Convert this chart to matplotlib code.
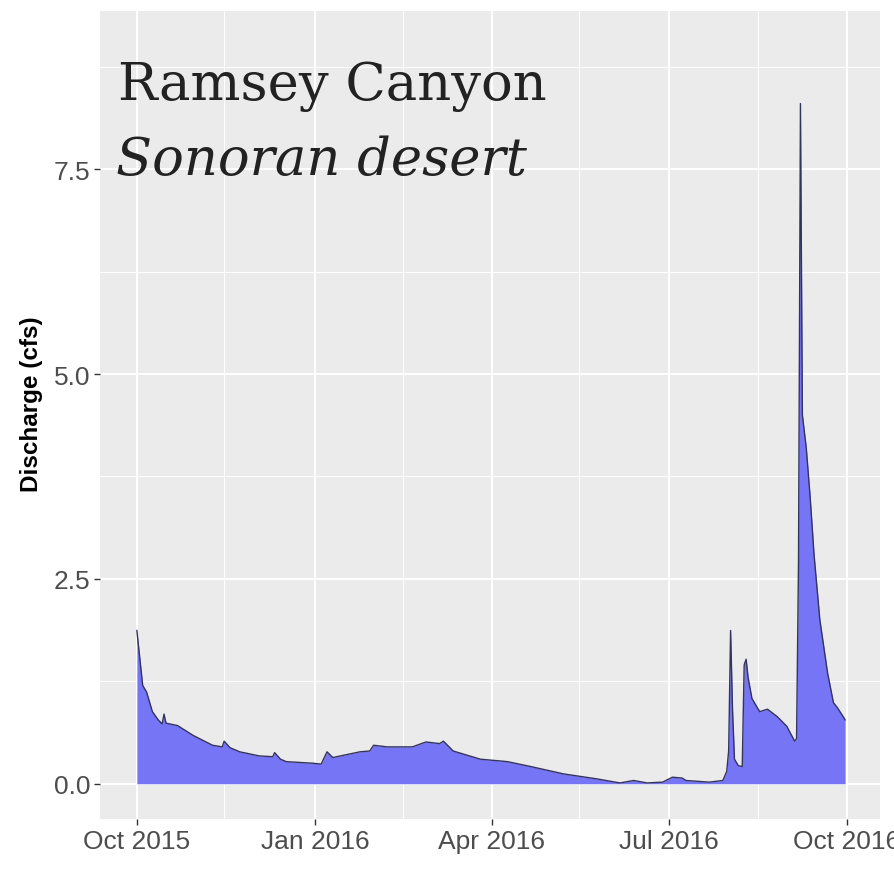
import numpy as np
import pandas as pd
import matplotlib
matplotlib.use('Agg')
import matplotlib.pyplot as plt
import matplotlib.dates as mdates
from matplotlib.ticker import FixedLocator

# daily discharge (cfs)
dates = ['2015-10-01', '2015-10-04', '2015-10-06', '2015-10-09', '2015-10-12',
         '2015-10-14', '2015-10-15', '2015-10-16', '2015-10-22', '2015-10-30',
         '2015-11-09', '2015-11-14', '2015-11-15', '2015-11-18', '2015-11-23',
         '2015-12-03', '2015-12-10', '2015-12-11', '2015-12-14', '2015-12-17',
         '2015-12-31', '2016-01-04', '2016-01-07', '2016-01-10', '2016-01-24',
         '2016-01-29', '2016-01-31', '2016-02-07', '2016-02-20', '2016-02-27',
         '2016-03-05', '2016-03-07', '2016-03-12', '2016-03-26', '2016-04-09',
         '2016-04-21', '2016-05-08', '2016-05-25', '2016-06-06', '2016-06-13',
         '2016-06-20', '2016-06-28', '2016-07-03', '2016-07-08', '2016-07-10',
         '2016-07-22', '2016-07-29', '2016-07-31', '2016-08-01', '2016-08-02',
         '2016-08-03', '2016-08-04', '2016-08-06', '2016-08-08', '2016-08-09',
         '2016-08-10', '2016-08-11', '2016-08-13', '2016-08-17', '2016-08-21',
         '2016-08-26', '2016-08-31', '2016-09-04', '2016-09-05', '2016-09-06',
         '2016-09-07', '2016-09-08', '2016-09-10', '2016-09-12', '2016-09-14',
         '2016-09-17', '2016-09-21', '2016-09-24', '2016-09-26', '2016-09-29',
         '2016-09-30']
flow = [1.87, 1.20, 1.12, 0.88, 0.78,
        0.73, 0.85, 0.74, 0.71, 0.59,
        0.47, 0.45, 0.52, 0.44, 0.39,
        0.34, 0.33, 0.38, 0.30, 0.27,
        0.25, 0.24, 0.39, 0.32, 0.39,
        0.40, 0.47, 0.45, 0.45, 0.51,
        0.49, 0.52, 0.40, 0.30, 0.27,
        0.21, 0.12, 0.06, 0.01, 0.04,
        0.01, 0.02, 0.08, 0.07, 0.04,
        0.02, 0.04, 0.15, 0.40, 1.87,
        0.90, 0.30, 0.22, 0.21, 1.45,
        1.52, 1.30, 1.04, 0.88, 0.91,
        0.82, 0.70, 0.52, 0.55, 2.70,
        8.30, 4.50, 4.10, 3.50, 2.80,
        2.00, 1.35, 0.99, 0.93, 0.82,
        0.78]

x_breaks = ['2015-10-01', '2016-01-01', '2016-04-01', '2016-07-01', '2016-10-01']
x_minor = ['2015-11-15', '2016-02-15', '2016-05-16', '2016-08-16']
x_labels = ['Oct 2015', 'Jan 2016', 'Apr 2016', 'Jul 2016', 'Oct 2016']
y_breaks = [0.0, 2.5, 5.0, 7.5]
y_minor = [1.25, 3.75, 6.25, 8.75]

t = pd.to_datetime(dates)
q = np.array(flow)

fig = plt.figure(figsize=(8.95, 8.95), dpi=100)
fig.patch.set_facecolor('white')
ax = fig.add_axes([100/895, 75/895, 780/895, 808/895])
ax.set_facecolor('#EBEBEB')

ax.fill_between(t, 0, q, color=(0.46, 0.46, 0.96), linewidth=0, zorder=3)
ax.plot(t, q, color='#33335e', linewidth=1.0, zorder=4)

d0 = pd.Timestamp('2015-10-01')
ax.set_xlim(mdates.date2num(d0 - pd.Timedelta(days=19)),
            mdates.date2num(d0 + pd.Timedelta(days=383)))
ax.set_ylim(-0.43, 9.43)

xb = mdates.date2num(pd.to_datetime(x_breaks))
xm = mdates.date2num(pd.to_datetime(x_minor))
ax.xaxis.set_major_locator(FixedLocator(xb))
ax.xaxis.set_minor_locator(FixedLocator(xm))
ax.set_xticklabels(x_labels)
ax.yaxis.set_major_locator(FixedLocator(y_breaks))
ax.yaxis.set_minor_locator(FixedLocator(y_minor))
ax.set_yticklabels(['%.1f' % v for v in y_breaks])

ax.grid(which='major', color='white', linewidth=1.4, zorder=0)
ax.grid(which='minor', color='white', linewidth=0.7, zorder=0)
ax.set_axisbelow(True)
for s in ax.spines.values():
    s.set_visible(False)

ax.tick_params(which='major', length=4, width=1, color='#333333',
               labelcolor='#4D4D4D', labelsize=19, pad=3)
ax.tick_params(which='minor', length=0)
for lab in ax.get_xticklabels() + ax.get_yticklabels():
    lab.set_fontfamily('Liberation Sans')

ax.set_ylabel('Discharge (cfs)', fontsize=17.5, fontweight='bold',
              fontfamily='Liberation Sans')
ax.yaxis.set_label_coords(-0.073, 0.515)

fig.text(118/895, 1 - 100/895, 'Ramsey Canyon', fontsize=38,
         fontfamily='DejaVu Serif', color='#222222', va='baseline')
fig.text(116/895, 1 - 175/895, 'Sonoran desert', fontsize=38,
         fontfamily='DejaVu Serif', fontstyle='italic', color='#222222',
         va='baseline')

fig.savefig('out.png', dpi=100)
